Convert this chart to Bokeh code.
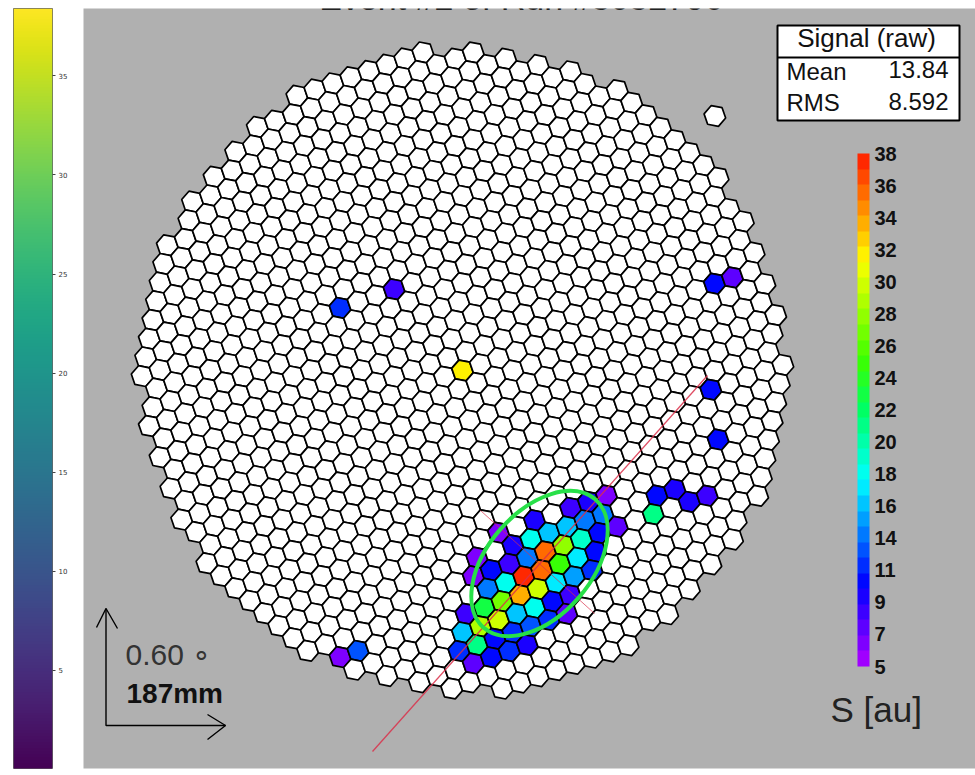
from bokeh.plotting import figure
from bokeh.layouts import row
from bokeh.models import (AllLabels, ColorBar, ColumnDataSource, FixedTicker, Label, LinearAxis, LinearColorMapper, Range1d)
from bokeh.palettes import Viridis256
from bokeh.core.properties import value
from bokeh.embed import file_html
from bokeh.resources import INLINE
import numpy as np

# ---------- data ----------
# camera outline: first and last cell index of each lattice row
row_j   = list(range(-19, 20))
row_min = [-13,-15,-16,-17,-18,-18,-19,-19,-19,-19,-19,-19,-19,-19,-18,-18,-18,-17,-17,-16,
           -16,-15,-15,-14,-13,-13,-12,-11,-10,-9,-8,-7,-6,-4,-3,-1,1,3,6]
row_max = [-6,-3,-1,1,3,4,6,7,8,9,10,11,12,13,13,14,15,15,16,16,
           17,17,18,18,18,19,19,19,19,19,19,19,19,18,18,17,16,15,13]
# signal cells
hit_i = [6,6,7,8,9,10,5,4,3,5,6,7,8,9,5,4,3,6,7,8,9,5,4,3,6,7,5,4,7,8,9,10,4,3,
         6,5,4,7,8,9,10,7,8,9,10,11,6,4,8,9,10,14,15,15,16,13,14,15,16,13,-8,-5,-4,-3,0,5,3,6]
hit_j = [14,13,14,14,14,14,14,14,14,13,15,15,15,15,15,15,15,16,16,16,16,16,16,16,17,17,17,17,13,13,13,13,13,12,
         12,12,12,12,12,12,12,11,11,11,11,12,11,10,10,10,10,0,0,6,9,11,11,12,12,12,-6,-6,14,14,0,11,11,10]
hit_s = [33,37,29.5,16,14.5,11,26,22,8,18,15,17,10,8,29.5,28,15,11,12,11,7,10,20,11,11,9,10,7,35,24,16,10,13.5,6,
         13,8,10,35,27,18.5,10,15,15,14,14,7,17,6,8,9,6,10,7,10,10,10,9,9,8,20,11,8,6,12,31.5,9,6,9]
cb_ticks = [38,36,34,32,30,28,26,24,22,20,18,16,14,11,9,7,5]
left_ticks = [0,5,10,15,20,25,30,35]
lone_cell = (12.1, -9.6)

# lattice (page px)
CX, CY = 462.0, 370.0
A1 = (18.0, -6.2)
A2 = (-3.6, 18.7)

cells = {}
for j, lo, hi in zip(row_j, row_min, row_max):
    for i in range(lo, hi + 1):
        cells[(i, j)] = 0.0
cells[lone_cell] = 0.0
for i, j, s in zip(hit_i, hit_j, hit_s):
    cells[(i, j)] = float(s)

keys = list(cells)
src = ColumnDataSource(dict(
    x=[CX + k[0]*A1[0] + k[1]*A2[0] for k in keys],
    y=[CY + k[0]*A1[1] + k[1]*A2[1] for k in keys],
    s=[cells[k] for k in keys]))

# ROOT rainbow, banded
def rainbow():
    stops = [(0.0,(160,0,255)),(0.15,(0,0,255)),(0.36,(0,255,255)),(0.5,(0,255,100)),(0.6,(60,255,0)),
             (0.8,(255,255,0)),(1.0,(255,40,0))]
    out = []
    for t in np.linspace(0, 1, 33):
        for a, b in zip(stops, stops[1:]):
            if a[0] <= t <= b[0]:
                f = (t-a[0])/(b[0]-a[0])
                c = [int(a[1][k]+(b[1][k]-a[1][k])*f) for k in range(3)]
                out.append("#%02x%02x%02x" % tuple(c))
                break
    return out

mapper = LinearColorMapper(palette=rainbow(), low=5, high=38, low_color="white", high_color="#ff2800")

p = figure(width=892, height=775, x_range=Range1d(83, 975), y_range=Range1d(768, 8),
           output_backend="svg", toolbar_location=None, min_border_left=0, min_border_right=0,
           min_border_top=8, min_border_bottom=7,
           background_fill_color="#b0b0b0", border_fill_color="#ffffff", outline_line_color=None)
p.axis.visible = False
p.grid.visible = False

p.scatter("x", "y", source=src, marker="hex", size=22, angle=-11, angle_units="deg",
          fill_color=dict(field="s", transform=mapper), line_color="black", line_width=1.7)

# axes of Hillas ellipse
p.line([372, 707], [751, 375], line_color="#d9304a", line_width=1.3, line_alpha=0.85)
p.line([480, 594], [510, 613], line_color="#d9304a", line_width=1.0, line_alpha=0.7)
p.ellipse(x=[539], y=[563], width=[170], height=[104], angle=49, angle_units="deg",
          fill_color=None, line_color="#28e048", line_width=4)

# scale arrows
p.multi_line([[105.5,105.5,225],[96,105.5,117],[207,225,207]], [[608,725,725],[627,608,628],[714,725,739]],
             line_color="black", line_width=1.4)

font = value("Liberation Sans")
def txt(x, y, s, size, color="#111111", style="normal", align="left"):
    p.text([x], [y - 0.4*size], text=[s], text_font=font, text_font_size=f"{size}px", text_color=color,
           text_font_style=style, text_align=align, text_baseline="alphabetic")

txt(125, 666, "0.60 ∘", 30, "#333333")
txt(126, 704, "187mm", 28, "#111111", "bold")
txt(830, 723, "S [au]", 35, "#222222")
txt(521, 11, "Event #2 of Run #5052790", 34, "#222222", align="center")

# stats box
p.quad(left=[777], right=[959], top=[25], bottom=[120], fill_color="white", line_color="black", line_width=2)
p.line([777, 959], [57, 57], line_color="black", line_width=2)
txt(866, 48, "Signal (raw)", 26, align="center")
txt(786, 81, "Mean", 24)
txt(786, 112, "RMS", 24)
txt(948, 79, "13.84", 24, align="right")
txt(948, 111, "8.592", 24, align="right")

tick_pos = [float(t) for t in np.linspace(38, 5, 17)]
cb = ColorBar(color_mapper=mapper, location=(774, 102), width=12, height=513,
              ticker=FixedTicker(ticks=tick_pos),
              major_label_overrides={t: str(l) for t, l in zip(tick_pos, cb_ticks)},
              major_label_policy=AllLabels(),
              major_label_text_font="Liberation Sans", major_label_text_font_style="bold",
              major_label_text_font_size="20px", major_label_text_color="#111111",
              major_tick_line_color=None, minor_tick_line_color=None, bar_line_color=None,
              label_standoff=5, background_fill_color=None, border_line_color=None, padding=0, margin=0)
p.add_layout(cb)

# left matplotlib colorbar
c = figure(width=83, height=775, x_range=Range1d(0, 1), y_range=Range1d(0.05, 38.4),
           output_backend="svg", toolbar_location=None, min_border_left=13, min_border_right=31,
           min_border_top=8, min_border_bottom=0, x_axis_location=None, y_axis_location=None,
           outline_line_color="#666666")
c.grid.visible = False
grad = np.linspace(0, 38.4, 256).reshape(-1, 1)
c.image(image=[grad], x=0, y=0, dw=1, dh=38.4, palette=Viridis256)
ax = LinearAxis(ticker=FixedTicker(ticks=left_ticks), major_tick_in=0, major_tick_out=3,
                major_label_text_font_size="7px", major_label_text_color="#333333",
                major_label_text_font="DejaVu Sans", axis_line_color=None, minor_tick_line_color=None,
                major_tick_line_color="#444444", major_label_standoff=3)
c.add_layout(ax, "right")
c.add_layout(Label(x=1, y=0, x_offset=7, text="0", text_font="DejaVu Sans", text_font_size="7px",
                   text_color="#333333", text_baseline="middle"))

page = row(c, p, spacing=0)
open("out.html", "w").write(file_html(page, INLINE))
